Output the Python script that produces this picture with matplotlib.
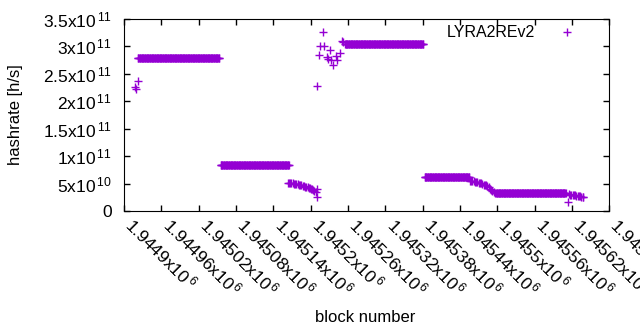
import numpy as np
import matplotlib.pyplot as plt
from matplotlib.ticker import FuncFormatter, MultipleLocator

plt.rcParams['font.family'] = ['Liberation Sans', 'DejaVu Sans']
plt.rcParams['mathtext.fontset'] = 'custom'
plt.rcParams['mathtext.rm'] = 'Liberation Sans'
plt.rcParams['mathtext.it'] = 'Liberation Sans'

color = '#9400d3'

# flat stretches of hashrate (first block, last block, value)
flat_start = [1944922, 1945055, 1945255, 1945383, 1945498]
flat_end = [1945053, 1945165, 1945381, 1945455, 1945610]
flat_value = [2.784e11, 8.385e10, 3.04e11, 6.26e10, 3.23e10]

# single points
pt_block = [1944918, 1944919, 1944922,
            1945163, 1945165, 1945167, 1945169, 1945171, 1945173, 1945175,
            1945177, 1945179, 1945181, 1945183, 1945185, 1945187, 1945189,
            1945191, 1945193, 1945195, 1945197, 1945198, 1945200, 1945202,
            1945204, 1945206, 1945209, 1945210, 1945210,
            1945210, 1945214, 1945215, 1945220, 1945221, 1945226, 1945227, 1945231,
            1945232, 1945236, 1945241, 1945242, 1945247, 1945250, 1945252,
            1945456, 1945458, 1945460, 1945462, 1945464, 1945466, 1945468,
            1945470, 1945472, 1945474, 1945476, 1945478, 1945480, 1945482,
            1945484, 1945486, 1945488, 1945490, 1945492, 1945494, 1945496,
            1945614, 1945615, 1945617, 1945619, 1945621, 1945623, 1945625,
            1945627, 1945629, 1945631, 1945633, 1945635, 1945637, 1945638]
pt_value = [2.266e11, 2.224e11, 2.375e11,
            5.10e10, 5.10e10, 5.08e10, 5.05e10, 5.02e10, 4.98e10, 4.95e10,
            4.90e10, 4.87e10, 4.80e10, 4.75e10, 4.68e10, 4.60e10, 4.52e10,
            4.45e10, 4.40e10, 4.32e10, 4.22e10, 4.15e10, 4.05e10, 3.96e10,
            3.85e10, 3.70e10, 3.40e10, 3.96e10, 2.61e10,
            2.28e11, 2.84e11, 3.01e11, 3.26e11, 3.01e11, 2.81e11, 2.78e11, 2.93e11,
            2.75e11, 2.67e11, 2.82e11, 2.75e11, 2.88e11, 3.10e11, 3.08e11,
            5.45e10, 5.40e10, 5.40e10, 5.38e10, 5.35e10, 5.32e10, 5.30e10,
            5.10e10, 5.10e10, 5.05e10, 4.90e10, 4.80e10, 4.70e10, 4.65e10,
            4.55e10, 4.40e10, 4.10e10, 3.85e10, 3.60e10, 3.45e10, 3.30e10,
            1.64e10, 3.05e10, 3.00e10, 2.95e10, 2.92e10, 2.90e10, 2.85e10,
            2.80e10, 2.75e10, 2.70e10, 2.65e10, 2.58e10, 2.55e10, 2.50e10]

blocks = list(pt_block)
rates = list(pt_value)
for s, e, v in zip(flat_start, flat_end, flat_value):
    b = np.arange(s, e + 1)
    blocks += list(b)
    rates += [v] * len(b)


def sci(v, pos=None):
    if v == 0:
        return '0'
    exp = int(np.floor(np.log10(abs(v)) + 1e-9))
    mant = v / 10 ** exp
    return '%gx10$^{\\,%d}$' % (round(mant, 6), exp)


fig = plt.figure(figsize=(6.4, 3.3), dpi=100)
ax = fig.add_axes([0.194, 0.3606, 0.758, 0.5818])

ax.plot(blocks, rates, linestyle='none', marker='+', ms=5.5, mew=1,
        color=color, label='LYRA2REv2')

ax.set_xlim(1944900, 1945680)
ax.set_ylim(0, 3.5e11)
ax.xaxis.set_major_locator(MultipleLocator(60))
ax.yaxis.set_major_locator(MultipleLocator(5e10))
ax.xaxis.set_major_formatter(FuncFormatter(sci))
ax.yaxis.set_major_formatter(FuncFormatter(sci))

ax.tick_params(direction='in', length=4, width=1, top=True, right=True,
               labelsize=12.5)
ax.tick_params(axis='y', pad=9)
ax.tick_params(axis='x', pad=11)
for lbl in ax.get_xticklabels():
    lbl.set_rotation(-45)
    lbl.set_ha('left')
    lbl.set_va('baseline')
    lbl.set_rotation_mode('anchor')

fig.text(365 / 640, 1 - 317 / 330, 'block number', ha='center', va='center',
         fontsize=12)
fig.text(16 / 640, 1 - 115 / 330, 'hashrate [h/s]', rotation=90,
         ha='center', va='center', fontsize=12)

ax.legend(loc='upper right', frameon=False, markerfirst=False, fontsize=11.5,
          handlelength=2.0, handletextpad=1.0, borderaxespad=0.0,
          bbox_to_anchor=(0.958, 1.0))

fig.savefig('out.png', dpi=100)
